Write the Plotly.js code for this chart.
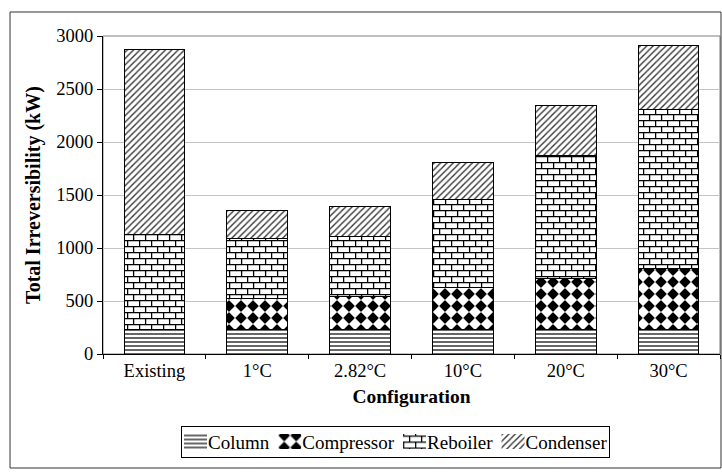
<!DOCTYPE html>
<html>
<head>
<meta charset="utf-8">
<script src="https://cdn.plot.ly/plotly-3.0.1.min.js"></script>
<style>html,body{margin:0;padding:0;background:#fff;}#chart{width:722px;height:474px;}</style>
</head>
<body>
<div id="chart"></div>
<script>
// Data
var categories = ["Existing", "1°C", "2.82°C", "10°C", "20°C", "30°C"];
var column     = [235, 235, 235, 235, 235, 235];
var compressor = [0, 293, 312, 388, 473, 567];
var reboiler   = [897, 566, 557, 839, 1169, 1500];
var condenser  = [1736, 261, 283, 344, 463, 604];
var yTickVals  = [0, 500, 1000, 1500, 2000, 2500, 3000];

var FONT = "Liberation Serif, Times New Roman, serif";
var outline = {color: "#000", width: 1};

function barTrace(name, y, pattern) {
  return {
    type: "bar", name: name, x: categories, y: y,
    marker: {color: "#fff", line: outline, pattern: pattern},
    hoverinfo: "skip"
  };
}

var traces = [
  barTrace("Column", column, {shape: "-", size: 4, solidity: 0.3, fgcolor: "#000", bgcolor: "#fff"}),
  barTrace("Compressor", compressor, {shape: ".", size: 12, solidity: 0.5, fgcolor: "rgb(2,2,2)", bgcolor: "#fff"}),
  barTrace("Reboiler", reboiler, {shape: "+", size: 12, solidity: 0.1, fgcolor: "rgb(1,1,1)", bgcolor: "#fff"}),
  barTrace("Condenser", condenser, {shape: "/", size: 4.5, solidity: 0.3, fgcolor: "#333", bgcolor: "#fff"})
];

var layout = {
  width: 722, height: 474,
  margin: {l: 103, r: 2, t: 36, b: 120},
  paper_bgcolor: "#fff", plot_bgcolor: "#fff",
  barmode: "stack", bargap: 0.41,
  font: {family: FONT, size: 18, color: "#000"},
  showlegend: true,
  xaxis: {
    type: "category", tickson: "boundaries", ticks: "outside", ticklen: 4,
    tickcolor: "#000", showline: true, linecolor: "#000", linewidth: 1,
    showgrid: false, tickfont: {family: FONT, size: 18.5, color: "#000"},
    title: {text: "Configuration", font: {family: FONT, size: 19.5, weight: "bold", color: "#000"}, standoff: 9},
    fixedrange: true
  },
  yaxis: {
    range: [0, 3000], tickvals: yTickVals, ticktext: yTickVals.map(String),
    ticks: "outside", ticklen: 5, tickcolor: "#000",
    showline: true, linecolor: "#000", linewidth: 1,
    showgrid: true, gridcolor: "#c4c4c4", gridwidth: 1, zeroline: false,
    tickfont: {family: FONT, size: 18.5, color: "#000"},
    title: {text: "Total Irreversibility (kW)", font: {family: FONT, size: 20, weight: "bold", color: "#000"}, standoff: 10},
    fixedrange: true
  },
  legend: {
    orientation: "h", x: 0.478, xanchor: "center", y: -0.226, yanchor: "top",
    bordercolor: "#000", borderwidth: 1, bgcolor: "#fff",
    font: {family: FONT, size: 19, color: "#000"}, traceorder: "normal", itemwidth: 30
  },
  shapes: [
    {type: "rect", xref: "paper", yref: "paper", x0: 0, x1: 1, y0: 0, y1: 1,
     line: {color: "#808080", width: 1}, layer: "below"},
    {type: "rect", xref: "paper", yref: "paper", x0: -0.1507, x1: 1.0016, y0: -0.3585, y1: 1.0755,
     line: {color: "#333", width: 1}, layer: "below"}
  ]
};

var NS = "http://www.w3.org/2000/svg";
function customizePatterns(gd) {
  var pats = gd.querySelectorAll("pattern");
  pats.forEach(function(p) {
    p.removeAttribute("patternTransform");
    var shapeEl = p.querySelector("path, circle");
    if (!shapeEl) return;
    var col = (shapeEl.getAttribute("stroke") || "") + "|" + (shapeEl.getAttribute("fill") || "") + "|" + (shapeEl.getAttribute("style") || "");
    var kind = null;
    if (/rgb\(1, ?1, ?1\)/.test(col)) kind = "brick";
    else if (/rgb\(2, ?2, ?2\)/.test(col)) kind = "diamond";
    if (!kind) return;
    while (p.firstChild) p.removeChild(p.firstChild);
    var w = 12, h = 12;
    p.setAttribute("width", w + "px");
    p.setAttribute("height", h + "px");
    var r = document.createElementNS(NS, "rect");
    r.setAttribute("width", w + "px"); r.setAttribute("height", h + "px"); r.setAttribute("fill", "#fff");
    p.appendChild(r);
    var path = document.createElementNS(NS, "path");
    if (kind === "brick") {
      path.setAttribute("d", "M0,0.6H12M0,6.6H12M0.6,0.6V6.6M6.6,6.6V12.6");
      path.setAttribute("stroke", "#000");
      path.setAttribute("stroke-width", "1.3");
      path.setAttribute("fill", "none");
    } else {
      path.setAttribute("d", "M6,1L11,6L6,11L1,6Z");
      path.setAttribute("fill", "#000");
      path.setAttribute("stroke", "#000");
      path.setAttribute("stroke-width", "1.2");
      path.setAttribute("stroke-linejoin", "round");
    }
    p.appendChild(path);
  });
}

// Compact the legend to the reference's Excel-style layout
function customizeLegend(gd) {
  var leg = gd.querySelector("g.legend");
  if (!leg) return;
  var keyW = 23, keyH = 15, boxH = 31, gap = 9, x = 3;
  var sb = leg.querySelector("g.scrollbox");
  if (sb) { sb.removeAttribute("clip-path"); sb.setAttribute("transform", ""); }
  leg.querySelectorAll("g.groups").forEach(function(g) { g.setAttribute("transform", ""); });
  var items = leg.querySelectorAll("g.traces");
  items.forEach(function(it, i) {
    it.querySelectorAll("g.legendpoints").forEach(function(g) { g.setAttribute("transform", ""); });
    it.querySelectorAll("g.legendpoints path").forEach(function(pth) {
      pth.setAttribute("d", "M0," + (-keyH / 2) + "H" + keyW + "V" + (keyH / 2) + "H0Z");
      pth.setAttribute("transform", "");
      pth.style.strokeWidth = "0px";
    });
    var txt = it.querySelector("text.legendtext");
    var tw = 0;
    if (txt) {
      txt.setAttribute("x", keyW + 1);
      txt.querySelectorAll("tspan").forEach(function(ts) { if (ts.hasAttribute("x")) ts.setAttribute("x", keyW + 1); });
      tw = txt.getComputedTextLength();
    }
    it.setAttribute("transform", "translate(" + x + "," + (boxH / 2) + ")");
    x += keyW + 1 + tw + (i < items.length - 1 ? gap : 2);
  });
  var boxW = Math.round(x);
  var bg = leg.querySelector("rect.bg");
  if (bg) {
    bg.setAttribute("x", 0.5); bg.setAttribute("y", 0.5);
    bg.setAttribute("width", boxW); bg.setAttribute("height", boxH);
  }
  var cx = 395;
  leg.setAttribute("transform", "translate(" + Math.round(cx - boxW / 2) + ",426)");
}

Plotly.newPlot("chart", traces, layout, {displayModeBar: false, staticPlot: true}).then(function(gd) {
  customizePatterns(gd);
  customizeLegend(gd);
});
</script>
</body>
</html>
